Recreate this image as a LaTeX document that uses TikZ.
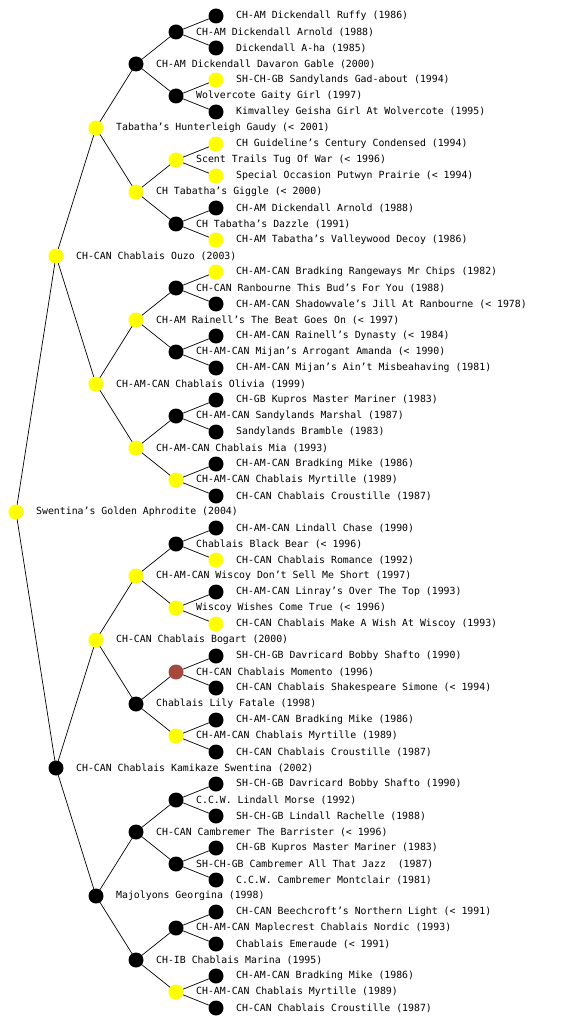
\documentclass[tikz,border=0pt]{standalone}
\usepackage{fontspec}
\setmonofont{DejaVu Sans Mono}
\usetikzlibrary{backgrounds}
\definecolor{nodek}{RGB}{0,0,0}
\definecolor{nodey}{RGB}{255,255,0}
\definecolor{nodeb}{RGB}{165,72,62}
\tikzset{
  dot/.style={circle,inner sep=0pt,minimum size=15pt,draw=none},
  lbl/.style={anchor=west,inner sep=0pt,font=\ttfamily\fontsize{9.85}{12}\selectfont},
  edge/.style={draw=black,line width=0.7pt}
}
\begin{document}
\begin{tikzpicture}[x=1pt,y=-1pt]
\useasboundingbox (0,0) rectangle (560,1024);
\foreach \i/\g/\c/\t in {
1/5/k/CH-AM Dickendall Ruffy (1986),
2/4/k/CH-AM Dickendall Arnold (1988),
3/5/k/Dickendall A-ha (1985),
4/3/k/CH-AM Dickendall Davaron Gable (2000),
5/5/y/SH-CH-GB Sandylands Gad-about (1994),
6/4/k/Wolvercote Gaity Girl (1997),
7/5/k/Kimvalley Geisha Girl At Wolvercote (1995),
8/2/y/Tabatha’s Hunterleigh Gaudy (< 2001),
9/5/y/CH Guideline’s Century Condensed (1994),
10/4/y/Scent Trails Tug Of War (< 1996),
11/5/y/Special Occasion Putwyn Prairie (< 1994),
12/3/y/CH Tabatha’s Giggle (< 2000),
13/5/k/CH-AM Dickendall Arnold (1988),
14/4/k/CH Tabatha’s Dazzle (1991),
15/5/y/CH-AM Tabatha’s Valleywood Decoy (1986),
16/1/y/CH-CAN Chablais Ouzo (2003),
17/5/y/CH-AM-CAN Bradking Rangeways Mr Chips (1982),
18/4/k/CH-CAN Ranbourne This Bud’s For You (1988),
19/5/k/CH-AM-CAN Shadowvale’s Jill At Ranbourne (< 1978),
20/3/y/CH-AM Rainell’s The Beat Goes On (< 1997),
21/5/k/CH-AM-CAN Rainell’s Dynasty (< 1984),
22/4/k/CH-AM-CAN Mijan’s Arrogant Amanda (< 1990),
23/5/k/CH-AM-CAN Mijan’s Ain’t Misbeahaving (1981),
24/2/y/CH-AM-CAN Chablais Olivia (1999),
25/5/k/CH-GB Kupros Master Mariner (1983),
26/4/k/CH-AM-CAN Sandylands Marshal (1987),
27/5/k/Sandylands Bramble (1983),
28/3/y/CH-AM-CAN Chablais Mia (1993),
29/5/k/CH-AM-CAN Bradking Mike (1986),
30/4/y/CH-AM-CAN Chablais Myrtille (1989),
31/5/k/CH-CAN Chablais Croustille (1987),
32/0/y/Swentina’s Golden Aphrodite (2004),
33/5/k/CH-AM-CAN Lindall Chase (1990),
34/4/k/Chablais Black Bear (< 1996),
35/5/y/CH-CAN Chablais Romance (1992),
36/3/y/CH-AM-CAN Wiscoy Don’t Sell Me Short (1997),
37/5/k/CH-AM-CAN Linray’s Over The Top (1993),
38/4/y/Wiscoy Wishes Come True (< 1996),
39/5/y/CH-CAN Chablais Make A Wish At Wiscoy (1993),
40/2/y/CH-CAN Chablais Bogart (2000),
41/5/k/SH-CH-GB Davricard Bobby Shafto (1990),
42/4/b/CH-CAN Chablais Momento (1996),
43/5/k/CH-CAN Chablais Shakespeare Simone (< 1994),
44/3/k/Chablais Lily Fatale (1998),
45/5/k/CH-AM-CAN Bradking Mike (1986),
46/4/y/CH-AM-CAN Chablais Myrtille (1989),
47/5/k/CH-CAN Chablais Croustille (1987),
48/1/k/CH-CAN Chablais Kamikaze Swentina (2002),
49/5/k/SH-CH-GB Davricard Bobby Shafto (1990),
50/4/k/C.C.W. Lindall Morse (1992),
51/5/k/SH-CH-GB Lindall Rachelle (1988),
52/3/k/CH-CAN Cambremer The Barrister (< 1996),
53/5/k/CH-GB Kupros Master Mariner (1983),
54/4/k/SH-CH-GB Cambremer All That Jazz\ \ (1987),
55/5/k/C.C.W. Cambremer Montclair (1981),
56/2/k/Majolyons Georgina (1998),
57/5/k/CH-CAN Beechcroft’s Northern Light (< 1991),
58/4/k/CH-AM-CAN Maplecrest Chablais Nordic (1993),
59/5/k/Chablais Emeraude (< 1991),
60/3/k/CH-IB Chablais Marina (1995),
61/5/k/CH-AM-CAN Bradking Mike (1986),
62/4/y/CH-AM-CAN Chablais Myrtille (1989),
63/5/k/CH-CAN Chablais Croustille (1987)}{
  \node[dot,fill=node\c] (n\i) at ({16+40*\g},{16*\i}) {};
  \node[lbl] (l\i) at ({36+40*\g},{16*\i}) {\t};
}
\begin{scope}[on background layer]
\foreach \p/\h in {32/16,16/8,48/8,8/4,24/4,40/4,56/4,4/2,12/2,20/2,28/2,36/2,44/2,52/2,60/2}{
  \pgfmathtruncatemacro\a{\p-\h}
  \pgfmathtruncatemacro\b{\p+\h}
  \draw[edge] (n\p.center) -- (n\a.center);
  \draw[edge] (n\p.center) -- (n\b.center);
}
\foreach \p in {2,6,...,62}{
  \pgfmathtruncatemacro\a{\p-1}
  \pgfmathtruncatemacro\b{\p+1}
  \draw[edge] (n\p.center) -- (n\a.center);
  \draw[edge] (n\p.center) -- (n\b.center);
}
\end{scope}
\end{tikzpicture}
\end{document}
